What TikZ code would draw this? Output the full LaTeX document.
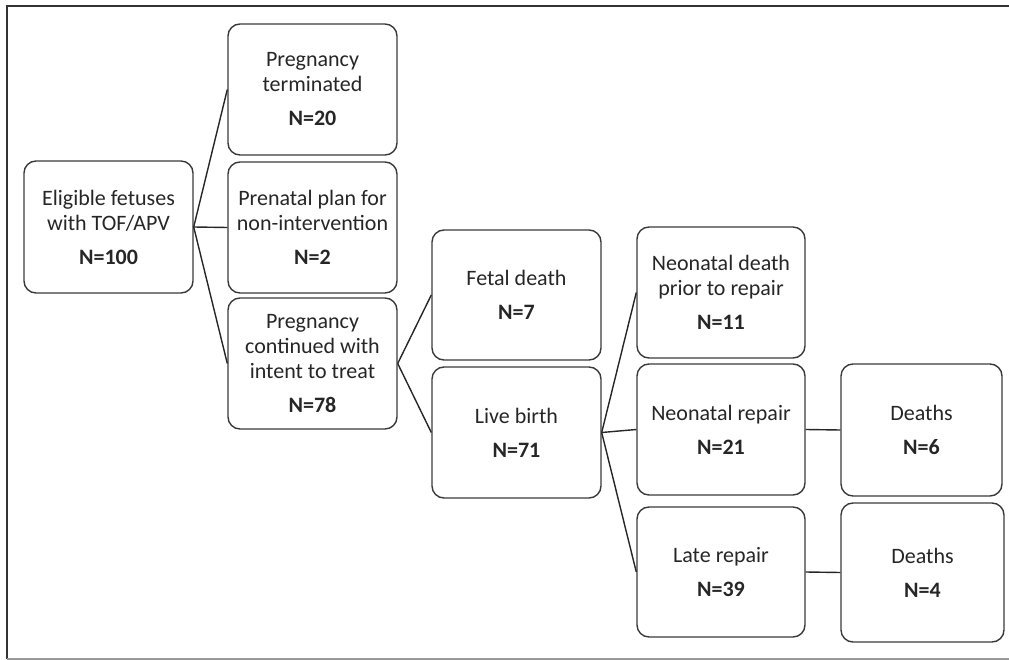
\documentclass[tikz,border=0pt]{standalone}
\usepackage{fontspec}
\setmainfont{Carlito}
\definecolor{boxline}{HTML}{3A3A3A}
\definecolor{txt}{HTML}{262626}
\begin{document}
\begin{tikzpicture}[x=1pt,y=-1pt,
  box/.style={draw=boxline,line width=1.4pt,rounded corners=12pt,align=center,
    text=txt,font=\fontsize{22}{25}\selectfont,inner sep=0pt},
  link/.style={draw=black!85,line width=1.4pt}]
\useasboundingbox (0,0) rectangle (1009,660);
\draw[line width=1.6pt,black!80] (1009,6) -- (7,6) -- (7,659);
\draw[line width=1.3pt,black!40] (7,659) -- (1009,659);

\node[box,minimum width=169pt,minimum height=132pt] (E) at (108.5,227) {Eligible fetuses\\with TOF/APV\\[9pt]\textbf{N=100}};
\node[box,minimum width=169pt,minimum height=131pt] (T) at (312.5,89.5) {Pregnancy\\terminated\\[9pt]\textbf{N=20}};
\node[box,minimum width=169pt,minimum height=131pt] (P) at (312.5,227.5) {Prenatal plan for\\non-intervention\\[9pt]\textbf{N=2}};
\node[box,minimum width=169pt,minimum height=131pt] (C) at (312.5,363.5) {Pregnancy\\continued with\\intent to treat\\[9pt]\textbf{N=78}};
\node[box,minimum width=169pt,minimum height=130pt] (F) at (516.5,295) {Fetal death\\[9pt]\textbf{N=7}};
\node[box,minimum width=169pt,minimum height=131pt] (L) at (516.5,432.5) {Live birth\\[9pt]\textbf{N=71}};
\node[box,minimum width=168pt,minimum height=131pt] (ND) at (721,292.5) {Neonatal death\\prior to repair\\[9pt]\textbf{N=11}};
\node[box,minimum width=168pt,minimum height=131pt] (NR) at (721,429.5) {Neonatal repair\\[9pt]\textbf{N=21}};
\node[box,minimum width=168pt,minimum height=130pt] (LR) at (721,572) {Late repair\\[9pt]\textbf{N=39}};
\node[box,minimum width=161pt,minimum height=132pt] (D1) at (921.5,430) {Deaths\\[9pt]\textbf{N=6}};
\node[box,minimum width=163pt,minimum height=139pt] (D2) at (922.5,572.5) {Deaths\\[9pt]\textbf{N=4}};

\draw[link] (E.east) -- (T.west);
\draw[link] (E.east) -- (P.west);
\draw[link] (E.east) -- (C.west);
\draw[link] (C.east) -- (F.west);
\draw[link] (C.east) -- (L.west);
\draw[link] (L.east) -- (ND.west);
\draw[link] (L.east) -- (NR.west);
\draw[link] (L.east) -- (LR.west);
\draw[link] (NR.east) -- (D1.west);
\draw[link] (LR.east) -- (D2.west);
\end{tikzpicture}
\end{document}
